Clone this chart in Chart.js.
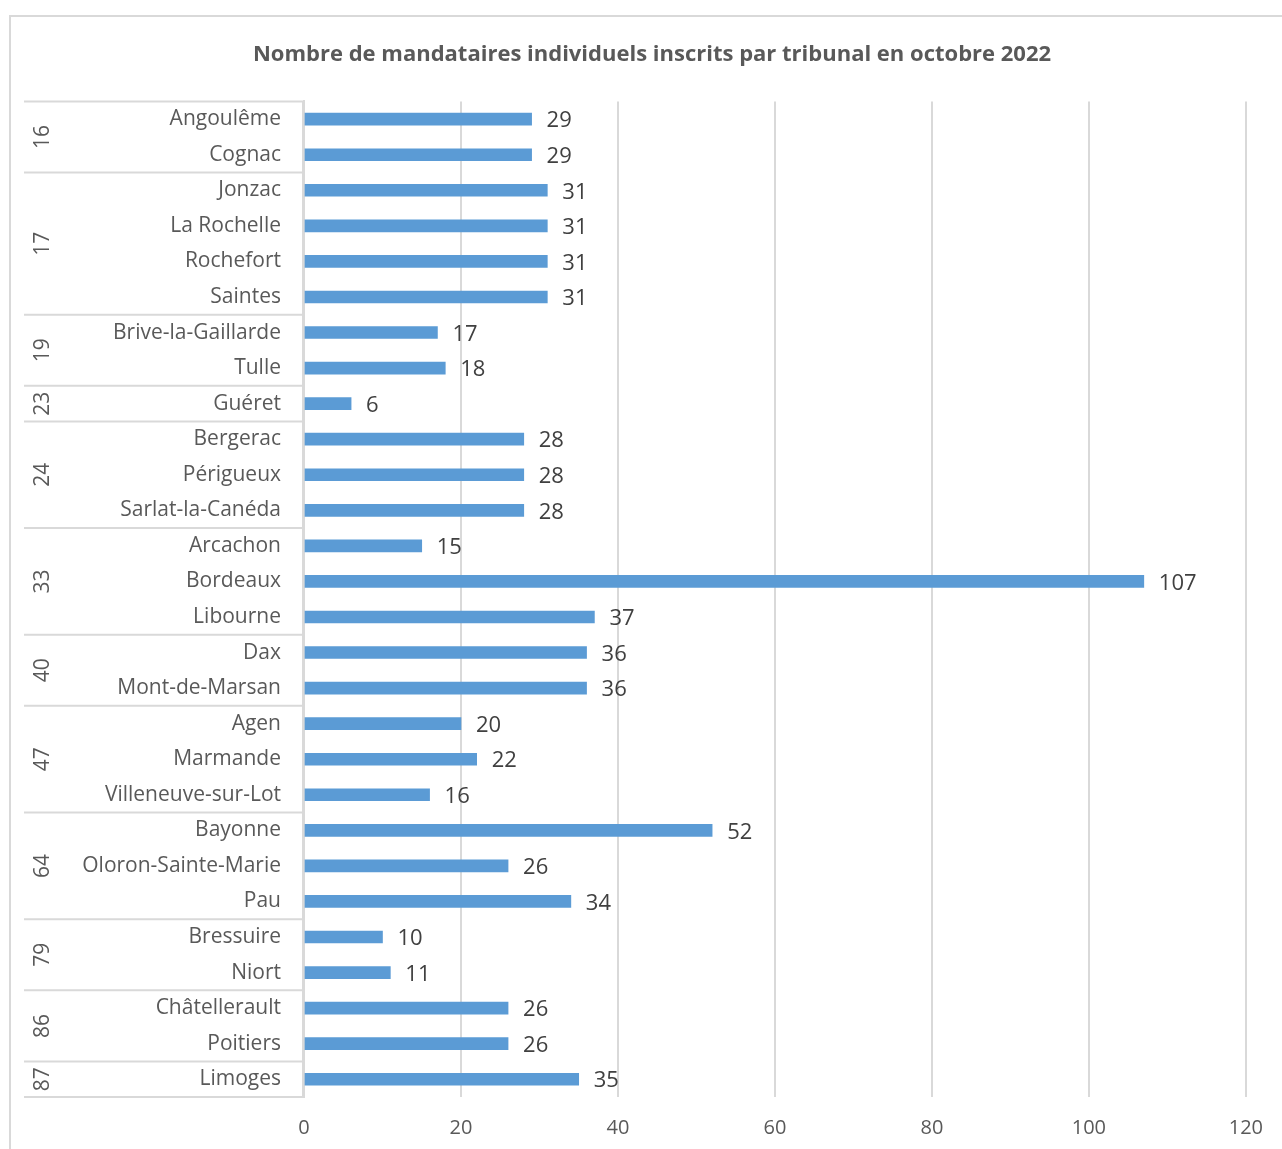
<!DOCTYPE html>
<html>
<head>
<meta charset="utf-8">
<script src="https://cdn.jsdelivr.net/npm/chart.js@4.4.0/dist/chart.umd.min.js"></script>
<style>
html,body{margin:0;padding:0;background:#fff;}
canvas{display:block;}
</style>
</head>
<body>
<canvas id="c" width="1282" height="1149"></canvas>
<script>
const chartTitle = "Nombre de mandataires individuels inscrits par tribunal en octobre 2022";
const tribunaux = ["Angoulême","Cognac","Jonzac","La Rochelle","Rochefort","Saintes","Brive-la-Gaillarde","Tulle","Guéret","Bergerac","Périgueux","Sarlat-la-Canéda","Arcachon","Bordeaux","Libourne","Dax","Mont-de-Marsan","Agen","Marmande","Villeneuve-sur-Lot","Bayonne","Oloron-Sainte-Marie","Pau","Bressuire","Niort","Châtellerault","Poitiers","Limoges"];
const departements = ["16","16","17","17","17","17","19","19","23","24","24","24","33","33","33","40","40","47","47","47","64","64","64","79","79","86","86","87"];
const mandataires = [29,29,31,31,31,31,17,18,6,28,28,28,15,107,37,36,36,20,22,16,52,26,34,10,11,26,26,35];
const xTicks = [0,20,40,60,80,100,120];

const FONT = "'Open Sans', sans-serif";
const GRID = "#d9d9d9";

const tablePlugin = {
  id: 'tablePlugin',
  beforeDraw(chart) {
    const ctx = chart.ctx;
    ctx.save();
    ctx.strokeStyle = GRID;
    ctx.lineWidth = 2;
    ctx.strokeRect(10, 16, 1400, 1400);
    ctx.restore();
  },
  afterDraw(chart) {
    const ctx = chart.ctx;
    const y = chart.scales.y;
    const area = chart.chartArea;
    const left = 24, right = area.left - 1;
    ctx.save();
    ctx.strokeStyle = GRID;
    ctx.lineWidth = 2;
    const bounds = [area.top];
    for (let i = 1; i < departements.length; i++) {
      if (departements[i] !== departements[i-1]) {
        bounds.push((y.getPixelForValue(i-1) + y.getPixelForValue(i)) / 2);
      }
    }
    bounds.push(area.bottom);
    ctx.beginPath();
    bounds.forEach(b => { ctx.moveTo(left, b); ctx.lineTo(right, b); });
    ctx.moveTo(right, area.top); ctx.lineTo(right, area.bottom);
    ctx.stroke();
    ctx.fillStyle = "#595959";
    ctx.font = "21px " + FONT;
    ctx.textAlign = "center";
    ctx.textBaseline = "middle";
    let start = 0;
    for (let i = 1; i <= departements.length; i++) {
      if (i === departements.length || departements[i] !== departements[start]) {
        const cy = (y.getPixelForValue(start) + y.getPixelForValue(i-1)) / 2;
        ctx.save();
        ctx.translate(43, cy);
        ctx.rotate(-Math.PI/2);
        ctx.fillText(departements[start], 0, 0);
        ctx.restore();
        start = i;
      }
    }
    ctx.fillStyle = "#404040";
    ctx.font = "22px " + FONT;
    ctx.textAlign = "left";
    const meta = chart.getDatasetMeta(0);
    meta.data.forEach((bar, i) => {
      ctx.fillText(String(mandataires[i]), bar.x + 15, bar.y + 2);
    });
    ctx.restore();
  }
};

new Chart(document.getElementById('c'), {
  type: 'bar',
  data: {
    labels: tribunaux,
    datasets: [{
      data: mandataires,
      backgroundColor: "#5b9bd5",
      borderWidth: 0,
      barThickness: 12
    }]
  },
  options: {
    indexAxis: 'y',
    responsive: false,
    animation: false,
    layout: { padding: { left: 58, right: 36, top: 0, bottom: 9 } },
    plugins: {
      legend: { display: false },
      tooltip: { enabled: false },
      title: {
        display: true,
        text: chartTitle,
        color: "#595959",
        font: { family: FONT, size: 22, weight: 'bold' },
        padding: { top: 42, bottom: 33 }
      }
    },
    scales: {
      x: {
        min: 0, max: 120,
        afterBuildTicks(scale) { scale.ticks = xTicks.map(v => ({ value: v })); },
        afterFit(scale) { scale.height = 43; },
        grid: { color: GRID, lineWidth: 2, drawTicks: false },
        border: { display: false },
        ticks: { color: "#595959", font: { family: FONT, size: 20 }, padding: 19, maxRotation: 0 }
      },
      y: {
        afterFit(scale) { scale.width = 246; },
        grid: { display: false, drawTicks: false },
        border: { display: true, color: GRID, width: 2 },
        ticks: { color: "#595959", font: { family: FONT, size: 21 }, padding: 23, autoSkip: false }
      }
    }
  },
  plugins: [tablePlugin]
});
</script>
</body>
</html>
